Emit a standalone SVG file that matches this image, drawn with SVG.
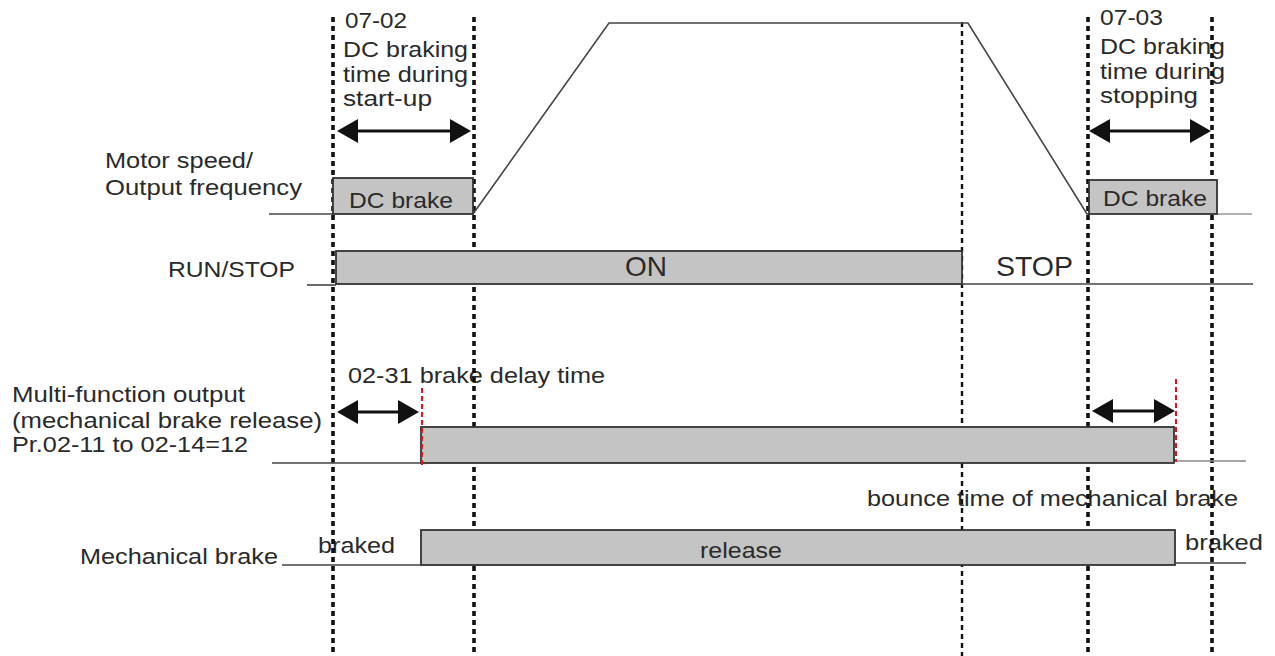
<svg xmlns="http://www.w3.org/2000/svg" width="1275" height="656" viewBox="0 0 1275 656">
<style>
text{font-family:"Liberation Sans",Arial,Helvetica,sans-serif;fill:#2a2a2a;font-size:22px}
.big{font-size:28px}
.box{fill:#c4c4c4;stroke:#333;stroke-width:1.8}
.base{fill:none;stroke:#444;stroke-width:1.6}
.dotk{stroke:#111;stroke-width:3.6;stroke-dasharray:5 4}
.dotn{stroke:#111;stroke-width:2.4;stroke-dasharray:5 4}
.red{stroke:#e0141e;stroke-width:2;stroke-dasharray:5 3}
.arr{stroke:#111;stroke-width:3;marker-start:url(#ah);marker-end:url(#ah)}
</style>
<defs>
<marker id="ah" markerUnits="userSpaceOnUse" markerWidth="22" markerHeight="26" viewBox="0 -13 22 26" refX="0" refY="0" orient="auto-start-reverse">
<path d="M0,-12 L21,0 L0,12 Z" fill="#111"/>
</marker>
</defs>
<rect width="1275" height="656" fill="#fff"/>

<g id="labels">
<text x="105" y="168" textLength="148" lengthAdjust="spacingAndGlyphs">Motor speed/</text>
<text x="105" y="195" textLength="197" lengthAdjust="spacingAndGlyphs">Output frequency</text>
<text x="168" y="277" textLength="127" lengthAdjust="spacingAndGlyphs">RUN/STOP</text>
<text x="12" y="402" textLength="233" lengthAdjust="spacingAndGlyphs">Multi-function output</text>
<text x="12" y="428" textLength="310" lengthAdjust="spacingAndGlyphs">(mechanical brake release)</text>
<text x="12" y="452" textLength="236" lengthAdjust="spacingAndGlyphs">Pr.02-11 to 02-14=12</text>
<text x="80" y="564" textLength="198" lengthAdjust="spacingAndGlyphs">Mechanical brake</text>
</g>

<g id="annotations">
<text x="345" y="28" textLength="62" lengthAdjust="spacingAndGlyphs">07-02</text>
<text x="343" y="57" textLength="125" lengthAdjust="spacingAndGlyphs">DC braking</text>
<text x="343" y="82" textLength="125" lengthAdjust="spacingAndGlyphs">time during</text>
<text x="343" y="106" textLength="89" lengthAdjust="spacingAndGlyphs">start-up</text>
<text x="1100" y="25" textLength="63" lengthAdjust="spacingAndGlyphs">07-03</text>
<text x="1100" y="54" textLength="125" lengthAdjust="spacingAndGlyphs">DC braking</text>
<text x="1100" y="79" textLength="125" lengthAdjust="spacingAndGlyphs">time during</text>
<text x="1100" y="103" textLength="98" lengthAdjust="spacingAndGlyphs">stopping</text>
<text x="348" y="383" textLength="257" lengthAdjust="spacingAndGlyphs">02-31 brake delay time</text>
<text x="867" y="506" textLength="371" lengthAdjust="spacingAndGlyphs">bounce time of mechanical brake</text>
<text x="318" y="553" textLength="77" lengthAdjust="spacingAndGlyphs">braked</text>
<text x="1185" y="550" textLength="78" lengthAdjust="spacingAndGlyphs">braked</text>
<text class="big" x="996" y="276" textLength="77" lengthAdjust="spacingAndGlyphs">STOP</text>
</g>

<g id="connectors">
<line class="dotk" x1="333" y1="17" x2="333" y2="656"/>
<line class="dotk" x1="474" y1="17" x2="474" y2="656"/>
<line class="dotn" x1="962" y1="22" x2="962" y2="656"/>
<line class="dotk" x1="1088" y1="17" x2="1088" y2="656"/>
<line class="dotk" x1="1212" y1="17" x2="1212" y2="656"/>
<line class="arr" x1="358" y1="131" x2="450" y2="131"/>
<line class="arr" x1="1110" y1="131" x2="1190" y2="131"/>
<line class="arr" x1="358" y1="412" x2="398" y2="412"/>
<line class="arr" x1="1113" y1="411" x2="1154" y2="411"/>
</g>

<g id="motor-speed">
<polyline class="base" points="269,214 333,214"/>
<polyline class="base" points="473,214 609,23 968,23 1087,214 1089,214"/>
<polyline class="base" points="1217,214 1252,214" style="stroke:#999"/>
<rect id="dc-brake-start" class="box" x="333" y="178" width="140" height="36"/>
<text x="349" y="208" textLength="104" lengthAdjust="spacingAndGlyphs">DC brake</text>
<rect id="dc-brake-stop" class="box" x="1089" y="180" width="128" height="34"/>
<text x="1103" y="206" textLength="104" lengthAdjust="spacingAndGlyphs">DC brake</text>
</g>

<g id="run-stop">
<polyline class="base" points="307,285 336,285"/>
<rect class="box" x="336" y="251" width="626" height="33"/>
<polyline class="base" points="962,284 1253,284"/>
<text class="big" x="625" y="276">ON</text>
</g>

<g id="mfo">
<polyline class="base" points="272,463 421,463"/>
<rect class="box" x="421" y="427" width="753" height="36"/>
<polyline class="base" points="1176,461 1246,461" style="stroke:#888"/>
</g>

<g id="mech-brake">
<polyline class="base" points="282,565 421,565"/>
<rect class="box" x="421" y="530" width="754" height="35"/>
<polyline class="base" points="1175,563 1246,563"/>
<text x="700" y="558" textLength="82" lengthAdjust="spacingAndGlyphs">release</text>
</g>

<g id="red-markers">
<line class="red" x1="422" y1="388" x2="422" y2="465"/>
<line class="red" x1="1176" y1="379" x2="1176" y2="462"/>
</g>
</svg>
